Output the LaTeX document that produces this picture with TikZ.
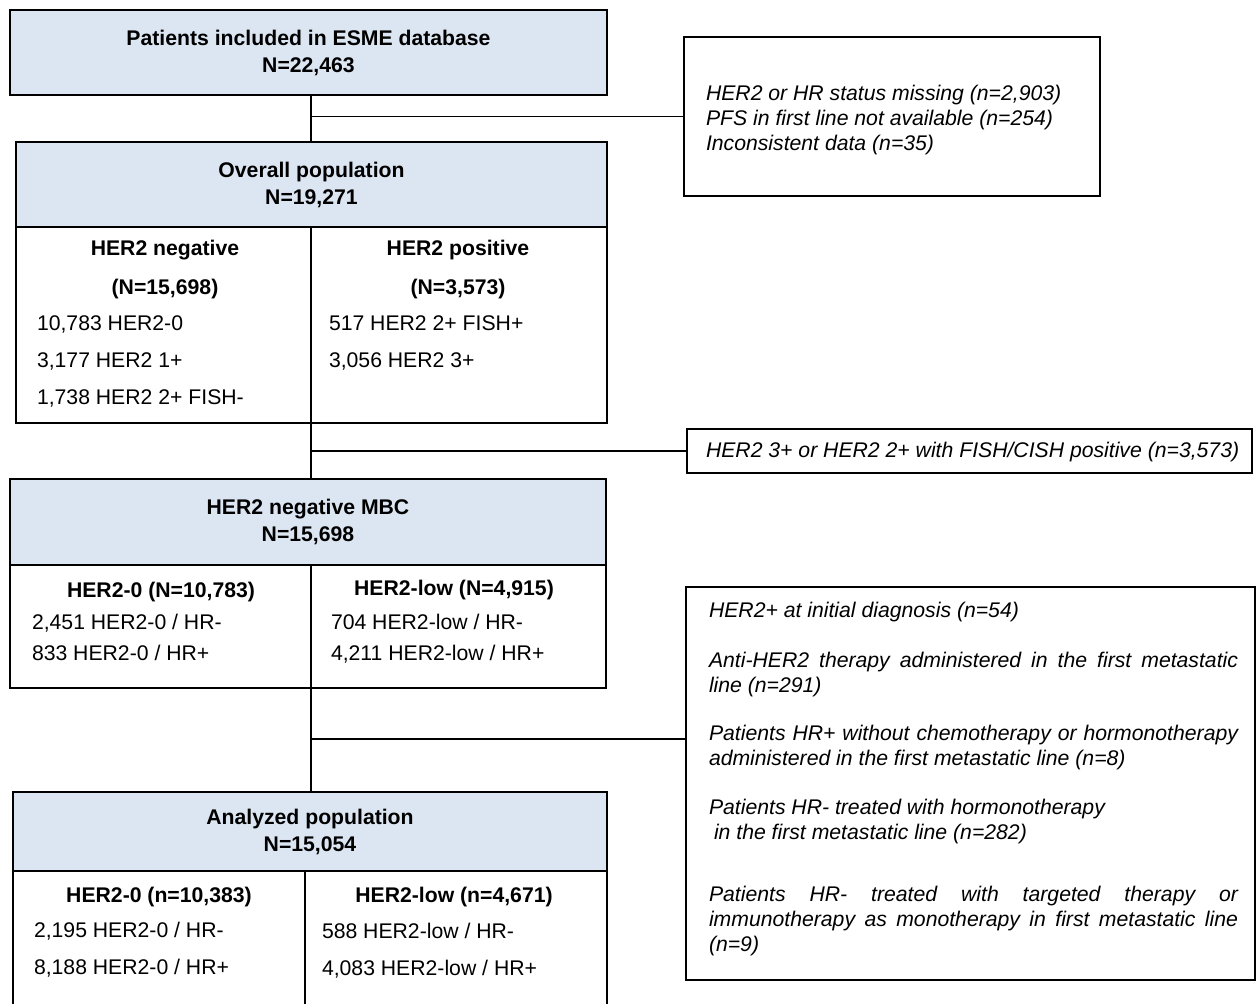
\documentclass[tikz,border=0pt]{standalone}
\usepackage{fontspec}
\setmainfont{Liberation Sans}
\definecolor{hdrblue}{HTML}{DCE6F2}
\begin{document}
\begin{tikzpicture}[x=1pt,y=-1pt,
  box/.style={draw, line width=1.6pt, inner sep=0pt, outer sep=0pt},
  hdr/.style={box, fill=hdrblue, align=center, font=\bfseries\fontsize{21.2}{27}\selectfont},
  ln/.style={inner sep=0pt, outer sep=0pt, text height=15.3pt, text depth=0pt, font=\fontsize{21.2}{25}\selectfont},
  bln/.style={ln, font=\bfseries\fontsize{21.2}{25}\selectfont},
  eln/.style={ln, font=\itshape\fontsize{21.2}{25}\selectfont},
  ex/.style={inner sep=0pt, outer sep=0pt, align=left, font=\itshape\fontsize{21.2}{25}\selectfont},
  conn/.style={line width=1.3pt}]
\useasboundingbox (0,0) rectangle (1257,1003);
\clip (0,0) rectangle (1257,1003);
\fill[white] (0,0) rectangle (1257,1003);
\coordinate (spine) at (311,0);
\coordinate (adiv) at (305,0);

% top box
\node[hdr, minimum width=597pt, minimum height=85pt] (top) at (308.5,52.5) {Patients included in ESME database\\N=22,463};

% exclusion box 1
\node[box, minimum width=416pt, minimum height=159pt] (ex1) at (892,116.5) {};
\node[ex, anchor=west] (ex1t) at (706,120) {HER2 or HR status missing (n=2,903)\\PFS in first line not available (n=254)\\Inconsistent data (n=35)};

% overall population
\node[hdr, minimum width=591pt, minimum height=85pt] (ovhead) at (311.5,184.5) {Overall population\\N=19,271};
\node[box, minimum width=591pt, minimum height=196pt] (ovbody) at (311.5,325) {};
\node[bln] (ovnegt) at (165,248) {HER2 negative};
\node[bln] (ovnegn) at (165,287) {(N=15,698)};
\node[ln, anchor=west] (ovn1) at (37,323) {10,783 HER2-0};
\node[ln, anchor=west] (ovn2) at (37,360) {3,177 HER2 1+};
\node[ln, anchor=west] (ovn3) at (37,397) {1,738 HER2 2+ FISH-};
\node[bln] (ovpost) at (458,248) {HER2 positive};
\node[bln] (ovposn) at (458,287) {(N=3,573)};
\node[ln, anchor=west] (ovp1) at (329,323) {517 HER2 2+ FISH+};
\node[ln, anchor=west] (ovp2) at (329,360) {3,056 HER2 3+};

% exclusion box 2
\node[box, minimum width=565pt, minimum height=44pt] (ex2) at (969.5,451) {};
\node[eln, anchor=west] (ex2t) at (706,450) {HER2 3+ or HER2 2+ with FISH/CISH positive (n=3,573)};

% HER2 negative MBC
\node[hdr, minimum width=596pt, minimum height=86pt] (mbchead) at (308,522) {HER2 negative MBC\\N=15,698};
\node[box, minimum width=596pt, minimum height=123pt] (mbcbody) at (308,626.5) {};
\node[bln] (mbc0t) at (161,590) {HER2-0 (N=10,783)};
\node[ln, anchor=west] (mbc01) at (32,622) {2,451 HER2-0 / HR-};
\node[ln, anchor=west] (mbc02) at (32,653) {833 HER2-0 / HR+};
\node[bln] (mbclt) at (454,588) {HER2-low (N=4,915)};
\node[ln, anchor=west] (mbcl1) at (331,622) {704 HER2-low / HR-};
\node[ln, anchor=west] (mbcl2) at (331,653) {4,211 HER2-low / HR+};

% exclusion box 3
\node[box, minimum width=569pt, minimum height=393pt] (ex3) at (970.5,783.5) {};
\coordinate (b3) at (686,739);
\node[eln, anchor=west] (p1) at (709,610) {HER2+ at initial diagnosis (n=54)};
\node[ex, anchor=west] (p2) at (709,674.5) {\makebox[529pt][s]{Anti-HER2 therapy administered in the first metastatic}\\line (n=291)};
\node[ex, anchor=west] (p3) at (709,748) {\makebox[529pt][s]{Patients HR+ without chemotherapy or hormonotherapy}\\administered in the first metastatic line (n=8)};
\node[ex, anchor=west] (p4) at (709,822) {Patients HR- treated with hormonotherapy\\\hspace*{5pt}in the first metastatic line (n=282)};
\node[ex, anchor=west] (p5) at (709,921) {\makebox[529pt][s]{Patients HR- treated with targeted therapy or}\\\makebox[529pt][s]{immunotherapy as monotherapy in first metastatic line}\\(n=9)};

% analyzed population
\node[hdr, minimum width=594pt, minimum height=79pt] (anhead) at (310,831.5) {Analyzed population\\N=15,054};
\node[box, minimum width=594pt, minimum height=149pt] (anbody) at (310,945.5) {};
\node[bln] (an0t) at (159,895) {HER2-0 (n=10,383)};
\node[ln, anchor=west] (an01) at (34,930) {2,195 HER2-0 / HR-};
\node[ln, anchor=west] (an02) at (34,967) {8,188 HER2-0 / HR+};
\node[bln] (anlt) at (454,895) {HER2-low (n=4,671)};
\node[ln, anchor=west] (anl1) at (322,931) {588 HER2-low / HR-};
\node[ln, anchor=west] (anl2) at (322,968) {4,083 HER2-low / HR+};

% dividers
\draw[line width=1.6pt] (spine |- ovbody.north) -- (spine |- ovbody.south);
\draw[line width=1.6pt] (spine |- mbcbody.north) -- (spine |- mbcbody.south);
\draw[line width=1.6pt] (adiv |- anbody.north) -- (adiv |- anbody.south);

% connectors
\draw[conn] (spine |- top.south) -- (spine |- ovhead.north);
\draw[conn] (spine |- ex1.west) -- (ex1.west);
\draw[conn] (spine |- ovbody.south) -- (spine |- mbchead.north);
\draw[conn] (spine |- ex2.west) -- (ex2.west);
\draw[conn] (spine |- mbcbody.south) -- (spine |- anhead.north);
\draw[conn] (spine |- b3) -- (b3);
\end{tikzpicture}
\end{document}
